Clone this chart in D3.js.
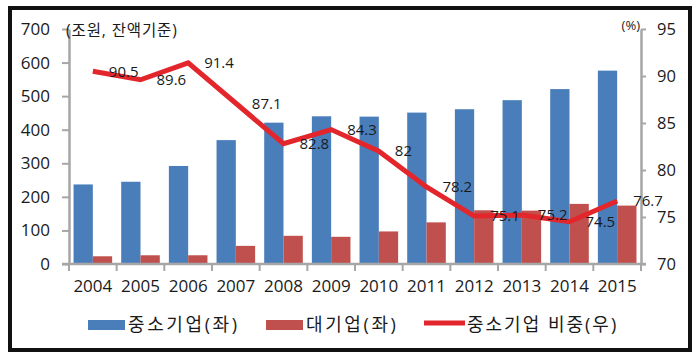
<!DOCTYPE html>
<html><head><meta charset="utf-8">
<script src="https://cdn.jsdelivr.net/npm/d3@7"></script>
<style>
body{margin:0;background:#fff;}
text{font-family:"Open Sans","Noto Sans CJK KR",sans-serif;fill:#1a1a1a;}
</style></head>
<body><svg id="c" width="700" height="359"></svg>
<script>
const years = ["2004","2005","2006","2007","2008","2009","2010","2011","2012","2013","2014","2015"];
const smeLoans = [237,245,292,369,421,440,439,451,461,488,521,576];
const largeLoans = [23,26,26,54,84,81,97,124,160,159,179,174];
const smeShare = [90.5,89.6,91.4,87.1,82.8,84.3,82,78.2,75.1,75.2,74.5,76.7];
const leftTicks = [0,100,200,300,400,500,600,700];
const rightTicks = [70,75,80,85,90,95];
const seriesNames = ["중소기업(좌)","대기업(좌)","중소기업 비중(우)"];

const svg = d3.select("#c");
const L=69, R=641, T=29, B=264;
const x = d3.scaleBand().domain(years).range([L,R]).paddingInner(0).paddingOuter(0);
const yL = d3.scaleLinear().domain([0,700]).range([B,T]);
const yR = d3.scaleLinear().domain([70,95]).range([B,T]);
const xs = d3.scaleBand().domain([0,1]).range([0,x.bandwidth()]).paddingOuter(0.235).paddingInner(0);

const blue="#4a7ebb", red="#c0504d", lineRed="#e3262c", axisGray="#a6a6a6";

// frame
svg.append("rect").attr("x",10).attr("y",8).attr("width",680).attr("height",342)
  .attr("fill","none").attr("stroke","#111").attr("stroke-width",4);

// bars
const g = svg.append("g");
years.forEach((yr,i)=>{
  g.append("rect").attr("x",x(yr)+xs(0)).attr("width",xs.bandwidth())
   .attr("y",yL(smeLoans[i])).attr("height",B-yL(smeLoans[i])).attr("fill",blue);
  g.append("rect").attr("x",x(yr)+xs(1)).attr("width",xs.bandwidth())
   .attr("y",yL(largeLoans[i])).attr("height",B-yL(largeLoans[i])).attr("fill",red);
});

// axes
function styleAxis(sel){
  sel.selectAll("path.domain").attr("stroke",axisGray).attr("stroke-width",2.5);
  sel.selectAll(".tick line").attr("stroke",axisGray).attr("stroke-width",2);
  sel.selectAll("text").attr("font-size",17).attr("fill","#1a1a1a")
    .style("font-family",'"Open Sans","Noto Sans CJK KR",sans-serif');
}
const axL = svg.append("g").attr("transform",`translate(${L},0)`)
  .call(d3.axisLeft(yL).tickValues(leftTicks).tickSize(7).tickSizeOuter(0).tickPadding(12));
styleAxis(axL);
const axR = svg.append("g").attr("transform",`translate(${R},0)`)
  .call(d3.axisRight(yR).tickValues(rightTicks).tickSize(5).tickSizeOuter(0).tickPadding(11).tickFormat(d3.format("d")));
styleAxis(axR);
axR.selectAll("text").attr("font-size",16.5);
// x axis with ticks at band boundaries
const axX = svg.append("g").attr("transform",`translate(0,${B})`);
axX.append("line").attr("x1",L-7).attr("x2",R+5).attr("y1",0).attr("y2",0)
  .attr("stroke",axisGray).attr("stroke-width",2.5);
const bounds = years.map(y=>x(y)).concat([R]);
axX.selectAll("line.t").data(bounds).enter().append("line").attr("class","t")
  .attr("x1",d=>d).attr("x2",d=>d).attr("y1",0).attr("y2",7)
  .attr("stroke",axisGray).attr("stroke-width",2);
axX.selectAll("text").data(years).enter().append("text")
  .attr("x",d=>x(d)+x.bandwidth()/2).attr("y",28).attr("text-anchor","middle")
  .attr("font-size",17).text(d=>d);

// line
const pts = years.map((yr,i)=>[x(yr)+x.bandwidth()/2, yR(smeShare[i])]);
svg.append("path").attr("d",d3.line()(pts)).attr("fill","none")
  .attr("stroke",lineRed).attr("stroke-width",5).attr("stroke-linejoin","miter");
svg.selectAll("text.lbl").data(smeShare).enter().append("text").attr("class","lbl")
  .attr("x",(d,i)=>pts[i][0]+16).attr("y",(d,i)=>pts[i][1]).attr("dy","0.35em")
  .attr("font-size",15).text(d=>d);

// unit labels
svg.append("text").attr("x",66).attr("y",31).attr("dy","0.35em").attr("font-size",15.5).attr("letter-spacing",0.9).text("(조원, 잔액기준)");
svg.append("text").attr("x",640).attr("y",25).attr("dy","0.35em").attr("font-size",13).attr("text-anchor","end").text("(%)");

// legend
const lg = svg.append("g");
const ly = 325;
lg.append("rect").attr("x",88).attr("y",ly-5).attr("width",37).attr("height",10).attr("fill",blue);
lg.append("text").attr("x",128).attr("y",ly).attr("dy","0.35em").attr("font-size",18).attr("letter-spacing",2.6).text(seriesNames[0]);
lg.append("rect").attr("x",266).attr("y",ly-5).attr("width",37).attr("height",10).attr("fill",red);
lg.append("text").attr("x",306).attr("y",ly).attr("dy","0.35em").attr("font-size",18).attr("letter-spacing",2.6).text(seriesNames[1]);
lg.append("line").attr("x1",424).attr("x2",465).attr("y1",ly-2).attr("y2",ly-2).attr("stroke",lineRed).attr("stroke-width",5);
lg.append("text").attr("x",467).attr("y",ly).attr("dy","0.35em").attr("font-size",18).attr("letter-spacing",2).text(seriesNames[2]);
</script></body></html>
